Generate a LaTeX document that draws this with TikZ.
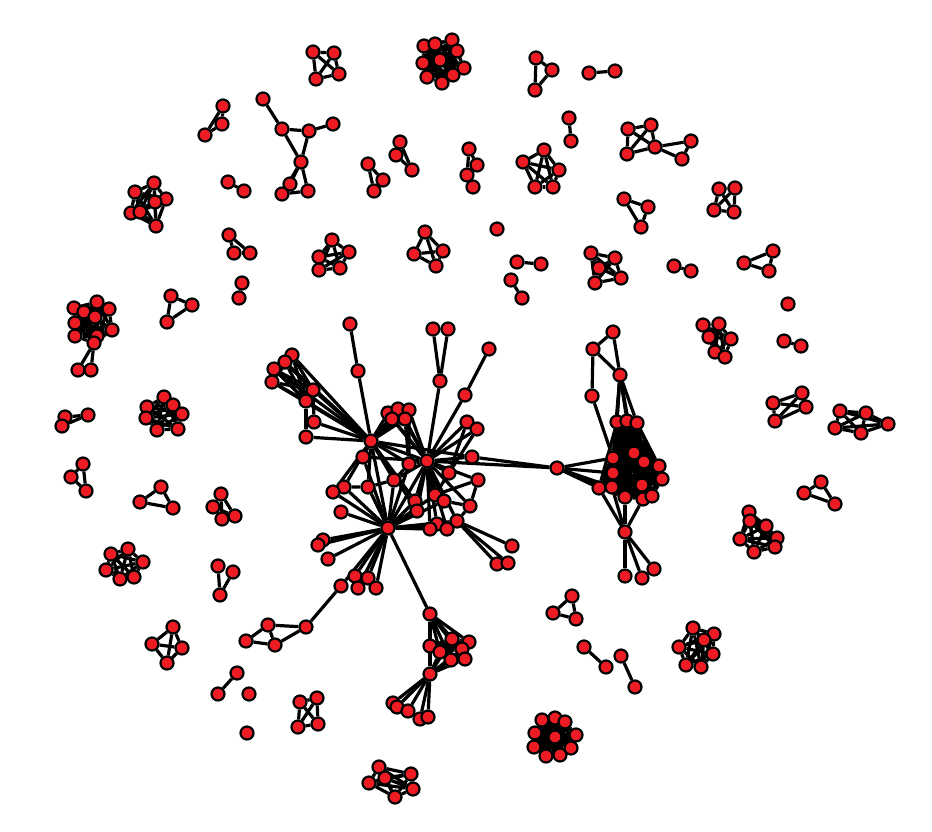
\documentclass[tikz,border=0pt]{standalone}
\usetikzlibrary{backgrounds}
\pgfdeclarelayer{bgfill}
\pgfsetlayers{bgfill,background,main}
\definecolor{nodered}{RGB}{237,28,36}
\tikzset{
  vtx/.style={circle,draw=black,fill=nodered,line width=2.2pt,minimum size=13pt,inner sep=0pt},
  edg/.style={draw=black,line width=3.2pt}
}
\newcommand\clq[1]{\foreach \xa [count=\xi] in {#1}{\foreach \xb [count=\xj] in {#1}{\ifnum\xi<\xj \draw[edg] (\xa)--(\xb);\fi}}}
\newcommand\stt[2]{\foreach \xb in {#2}{\draw[edg] (#1)--(\xb);}}
\begin{document}
\begin{tikzpicture}[x=1pt,y=-1pt]
\begin{pgfonlayer}{bgfill}
\fill[white] (0,0) rectangle (932,832);
\end{pgfonlayer}
\useasboundingbox (0,0) rectangle (932,832);
\foreach \n/\x/\y in {
a1/313/52, a2/334/53, a3/316/79, a4/339/74,
b1/424/46, b2/435/44, b3/452/40, b4/457/51, b5/423/63, b6/464/68, b7/427/77, b8/442/83, b9/453/75, b10/440/60,
d1/536/58, d2/552/70, d3/535/90,
e1/589/73, e2/615/71,
g1/223/106, g2/222/124, g3/205/135,
h1/263/99, h2/282/129, h3/309/131, h4/333/124, h5/301/162, h6/290/184, h7/282/194, h8/308/191,
i1/569/118, i2/571/141,
j1/628/129, j2/651/125, j3/655/147, j4/627/154, j5/691/141, j6/682/159,
k1/400/142, k2/396/155, k3/412/170,
l1/368/164, l2/383/180, l3/374/191,
n1/469/149, n2/477/165, n3/467/175, n4/473/187,
o1/544/150, o2/523/162, o3/559/170, o4/535/187, o5/553/187,
p1/228/182, p2/244/191,
q1/154/183, q2/135/192, q3/166/199, q4/155/202, q5/131/213, q6/140/212, q7/156/226,
s1/624/199, s2/648/207, s3/641/227,
aa1/719/189, aa2/735/188, aa3/714/210, aa4/734/212,
ab1/497/229,
ac1/229/235, ac2/234/253, ac3/250/253,
ad1/332/240, ad2/319/257, ad3/349/252, ad4/319/270, ad5/340/268,
ae1/425/232, ae2/414/254, ae3/443/251, ae4/436/266,
af1/591/253, af2/615/258, af3/599/268, af4/595/283, af5/621/278,
ag1/517/262, ag2/541/264,
ah1/511/280, ah2/522/298,
ai1/674/266, ai2/691/271,
aj1/744/263, aj2/773/251, aj3/769/271,
ak1/242/283, ak2/239/298,
al1/171/296, al2/192/305, al3/167/322,
am1/74/308, am2/97/302, am3/109/309, am4/84/312, am5/95/317, am6/75/323, am7/112/330, am8/75/336, am9/97/336, am10/94/343, am11/78/370, am12/91/370,
an1/788/304,
ao1/784/341, ao2/801/346,
ap1/703/325, ap2/719/324, ap3/709/337, ap4/731/339, ap5/715/352, ap6/725/357,
aq1/773/403, aq2/802/393, aq3/806/407, aq4/775/421,
ar1/840/411, ar2/866/413, ar3/888/424, ar4/835/428, ar5/861/433,
as1/65/417, as2/62/426, as3/88/415,
at1/164/397, at2/147/407, at3/173/405, at4/146/418, at5/182/414, at6/157/430, at7/178/429,
au1/83/464, au2/71/477, au3/86/491,
av1/821/482, av2/804/493, av3/835/504,
aw1/161/487, aw2/140/502, aw3/173/508,
ax1/221/494, ax2/213/507, ax3/222/519, ax4/235/516,
ay1/749/512, ay2/750/521, ay3/766/526, ay4/740/539, ay5/777/538, ay6/754/552, ay7/775/547,
az1/111/554, az2/128/549, az3/143/562, az4/106/570, az5/120/579, az6/134/577,
ba1/218/566, ba2/233/572, ba3/220/595,
bb1/572/596, bb2/553/613, bb3/576/619,
bc1/173/627, bc2/152/644, bc3/182/648, bc4/167/663,
bd1/584/647, bd2/606/667,
be1/621/656, be2/635/687,
bf1/693/628, bf2/714/634, bf3/704/640, bf4/679/647, bf5/713/654, bf6/686/665, bf7/701/667,
bg1/237/673, bg2/218/694,
bh1/249/694,
bi1/247/733,
bj1/300/702, bj2/317/698, bj3/298/727, bj4/318/724,
bk1/379/767, bk2/411/774, bk3/369/783, bk4/385/778, bk5/413/789, bk6/395/797,
bl1/542/720, bl2/555/718, bl3/565/722, bl4/535/733, bl5/576/735, bl6/534/747, bl7/571/748, bl8/546/756, bl9/560/755, bl10/555/737,
A/371/441, B/427/461, C/388/528, m1/350/324, m2/358/371, m3/433/329, m4/448/329, m5/440/381, m6/489/349, m7/465/395,
f1/292/355, f2/285/362, f3/274/369, f4/272/382, f5/313/390, f6/306/401, f7/314/422, f8/306/437,
t1/388/413, t2/398/409, t3/409/410, t4/392/419, t5/405/419,
r1/467/422, r2/477/429, r3/472/457,
u1/363/457, u2/409/464, u3/449/473, u4/478/480, u5/394/480, u6/368/487, u7/344/487, u8/333/492, u9/341/512,
v1/435/495, v2/415/501, v3/444/501, v4/417/511, v5/470/506, v6/457/521, v7/437/524, v8/430/529, v9/447/529,
w1/323/540, w2/318/545, w3/328/559,
x1/355/576, x2/368/578, x3/341/586, x4/358/588, x5/376/588,
y1/306/627, y2/268/625, y3/246/641, y4/275/645,
z1/512/546, z2/497/564, z3/508/563,
bo0/430/614, bo1/430/646, bo2/452/639, bo3/469/642, bo4/440/652, bo5/462/649, bo6/451/660, bo7/465/659, bo8/430/674,
bo9/393/703, bo10/397/707, bo11/408/711, bo12/420/719, bo13/428/717,
R1/613/332, R2/593/349, R3/620/375, R4/592/396, R5/617/422, R6/627/421, R7/637/423, R8/634/453, R9/613/458, R10/644/462, R11/659/466, R12/557/468, R13/613/473, R14/662/479, R15/599/488, R16/612/487, R17/642/485, R18/625/497, R19/643/499, R20/652/496, R21/625/532, R22/625/576, R23/642/578, R24/654/569}
{\node[vtx] (\n) at (\x,\y) {};}
\begin{pgfonlayer}{background}
\clq{a1,a2,a3,a4}
\clq{b1,b2,b3,b4,b5,b6,b7,b8,b9,b10}
\clq{d1,d2,d3}
\draw[edg] (e1)--(e2);
\clq{g1,g2,g3}
\draw[edg] (h1)--(h2) (h2)--(h3) (h3)--(h4) (h2)--(h5) (h3)--(h5) (h5)--(h6) (h5)--(h7) (h5)--(h8) (h7)--(h8) (h6)--(h7);
\draw[edg] (i1)--(i2);
\draw[edg] (j1)--(j2) (j1)--(j4) (j1)--(j3) (j2)--(j3) (j2)--(j4) (j4)--(j3) (j3)--(j5) (j3)--(j6) (j5)--(j6);
\clq{k1,k2,k3}
\clq{l1,l2,l3}
\draw[edg] (n1)--(n2) (n1)--(n3) (n2)--(n3) (n3)--(n4);
\clq{o1,o2,o3,o4,o5}
\draw[edg] (p1)--(p2);
\clq{q1,q2,q3,q4,q5,q6,q7}
\clq{s1,s2,s3}
\clq{aa1,aa2,aa3,aa4}
\clq{ac1,ac2,ac3}
\clq{ad1,ad2,ad3,ad4,ad5}
\clq{ae1,ae2,ae3,ae4}
\clq{af1,af2,af3,af4,af5}
\draw[edg] (ag1)--(ag2) (ah1)--(ah2) (ai1)--(ai2) (ak1)--(ak2) (ao1)--(ao2);
\clq{aj1,aj2,aj3}
\clq{al1,al2,al3}
\clq{am1,am2,am3,am4,am5,am6,am7,am8,am9,am10}
\draw[edg] (am10)--(am11) (am10)--(am12);
\clq{ap1,ap2,ap3,ap4,ap5,ap6}
\clq{aq1,aq2,aq3,aq4}
\clq{ar1,ar2,ar3,ar4,ar5}
\clq{as1,as2,as3}
\clq{at1,at2,at3,at4,at5,at6,at7}
\clq{au1,au2,au3}
\clq{av1,av2,av3}
\clq{aw1,aw2,aw3}
\clq{ax1,ax2,ax3,ax4}
\clq{ay1,ay2,ay3,ay4,ay5,ay6,ay7}
\clq{az1,az2,az3,az4,az5,az6}
\draw[edg] (ba1)--(ba3) (ba2)--(ba3);
\clq{bb1,bb2,bb3}
\clq{bc1,bc2,bc3,bc4}
\draw[edg] (bd1)--(bd2) (be1)--(be2) (bg1)--(bg2);
\clq{bf1,bf2,bf3,bf4,bf5,bf6,bf7}
\clq{bj1,bj2,bj3,bj4}
\clq{bk1,bk2,bk3,bk4,bk5,bk6}
\clq{bl1,bl2,bl3,bl4,bl5,bl6,bl7,bl8,bl9,bl10}
% main component
\draw[edg] (m1)--(m2) (m2)--(A) (m3)--(m5) (m4)--(m5) (m5)--(B) (m6)--(m7) (m7)--(B);
\clq{f1,f2,f3,f4}
\stt{f5}{f1,f2,f3,f4,f6,f7,A}
\stt{f6}{f1,f2,f3,f4,f8,A}
\stt{A}{f1,f2,f3,f4,f7,f8}
\clq{t1,t2,t3,t4,t5}
\stt{A}{t1,t2,t3,t4,t5}
\stt{B}{t1,t2,t3,t4,t5}
\draw[edg] (t3)--(u2) (t5)--(u2);
\stt{A}{B,C,u1,u2,u5,u6,u7,u8,v2,v4,r3}
\stt{B}{r1,r2,r3,u1,u2,u3,u4,u5,v1,v2,v3,v4,v5,v6,v7,v8,v9,C,R12}
\stt{C}{u1,u2,u5,u6,u7,u8,u9,w1,w2,w3,x1,x2,x3,x4,x5,bo0,v1,v2,v3,v4,v6,v7,v8,v9}
\draw[edg] (r1)--(u3) (r2)--(u3) (u3)--(v1) (u4)--(v1) (u4)--(v5) (v5)--(v3) (v5)--(v6)
  (u7)--(u6) (u6)--(u5) (u8)--(u7) (u2)--(u5) (r3)--(R12);
\stt{v6}{z1,z2,z3}
\draw[edg] (x3)--(y1) (y1)--(y2) (y1)--(y4) (y2)--(y3) (y2)--(y4) (y3)--(y4);
\stt{bo0}{bo1,bo2,bo3,bo4,bo5,bo6,bo7,bo8}
\clq{bo1,bo2,bo3,bo4,bo5,bo6,bo7}
\stt{bo8}{bo1,bo2,bo4,bo5,bo6,bo7,bo9,bo10,bo11,bo12,bo13}
% right component
\draw[edg] (R1)--(R2) (R1)--(R3) (R2)--(R3) (R2)--(R4) (R4)--(R9);
\stt{R3}{R5,R6,R7,R8,R9,R13}
\clq{R5,R6,R7,R8,R9,R10,R11,R13,R14,R15,R16,R17,R18,R19,R20}
\stt{R12}{R9,R13,R15,R16,R18}
\stt{R21}{R15,R16,R18,R19,R22,R23,R24}
\end{pgfonlayer}
\end{tikzpicture}
\end{document}
